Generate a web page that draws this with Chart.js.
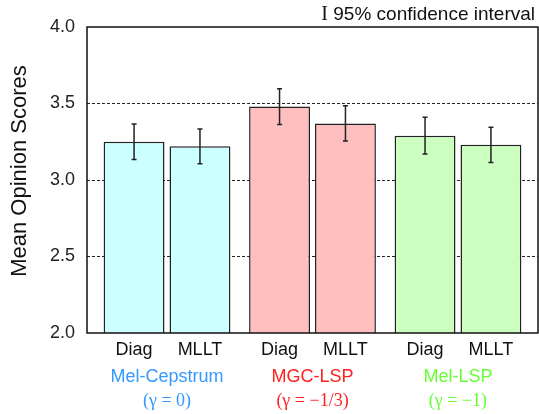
<!DOCTYPE html>
<html>
<head>
<meta charset="utf-8">
<script src="https://cdn.jsdelivr.net/npm/chart.js@4/dist/chart.umd.min.js"></script>
<style>
  html, body { margin: 0; padding: 0; background: #fff; }
  #wrap { width: 539px; height: 414px; position: relative; }
</style>
</head>
<body>
<div id="wrap"><canvas id="mosChart"></canvas></div>
<script>
// data
const groups = ["Mel-Cepstrum", "MGC-LSP", "Mel-LSP"];
const gammaLabels = ["(\u03b3 = 0)", "(\u03b3 = \u22121/3)", "(\u03b3 = \u22121)"];
const seriesNames = ["Diag", "MLLT"];
const diagScores = [3.25, 3.48, 3.29];
const mlltScores = [3.22, 3.37, 3.23];
const diagErr = [0.116, 0.117, 0.12];
const mlltErr = [0.114, 0.115, 0.115];
const yTicks = [2.0, 2.5, 3.0, 3.5, 4.0];

const fills = ["#ccffff", "#ffbfbf", "#ccffbf"];
const groupColors = ["#3399ff", "#ff2020", "#66ff33"];
const errors = [diagErr, mlltErr];

const sans = "'Liberation Sans', Arial, sans-serif";
const serif = "'Liberation Serif', 'Times New Roman', serif";

// error bars, frame and all the free text
const decorations = {
  id: "decorations",
  afterDatasetsDraw(chart) {
    const { ctx, chartArea: a } = chart;
    const y = chart.scales.y;
    ctx.save();

    // confidence intervals
    ctx.strokeStyle = "#222";
    ctx.lineWidth = 1.5;
    chart.data.datasets.forEach((ds, di) => {
      chart.getDatasetMeta(di).data.forEach((bar, i) => {
        const v = ds.data[i].y;
        const e = errors[di][i];
        const top = y.getPixelForValue(v + e);
        const bot = y.getPixelForValue(v - e);
        ctx.beginPath();
        ctx.moveTo(bar.x, top); ctx.lineTo(bar.x, bot);
        ctx.moveTo(bar.x - 2.5, top); ctx.lineTo(bar.x + 2.5, top);
        ctx.moveTo(bar.x - 2.5, bot); ctx.lineTo(bar.x + 2.5, bot);
        ctx.stroke();
      });
    });

    // plot frame
    ctx.strokeStyle = "#111";
    ctx.lineWidth = 1.5;
    ctx.strokeRect(a.left, a.top, a.right - a.left, a.bottom - a.top);

    // bar labels and group labels
    ctx.textAlign = "center";
    ctx.textBaseline = "middle";
    const d0 = chart.getDatasetMeta(0).data;
    const d1 = chart.getDatasetMeta(1).data;
    groups.forEach((g, i) => {
      ctx.fillStyle = "#111";
      ctx.font = "18px " + sans;
      ctx.fillText(seriesNames[0], d0[i].x, a.bottom + 17);
      ctx.fillText(seriesNames[1], d1[i].x, a.bottom + 17);
      const cx = (d0[i].x + d1[i].x) / 2;
      ctx.fillStyle = groupColors[i];
      ctx.fillText(g, cx, a.bottom + 44);
      ctx.font = "18px " + serif;
      ctx.fillText(gammaLabels[i], cx, a.bottom + 68);
    });

    // legend for the error bars
    ctx.fillStyle = "#111";
    ctx.textAlign = "right";
    ctx.textBaseline = "alphabetic";
    ctx.font = "19px " + sans;
    const txt = " 95% confidence interval";
    ctx.fillText(txt, 535, 20);
    const w = ctx.measureText(txt).width;
    ctx.font = "20px " + serif;
    ctx.fillText("I", 535 - w, 20);

    // y axis title
    ctx.textBaseline = "middle";
    ctx.translate(20, 171);
    ctx.rotate(-Math.PI / 2);
    ctx.textAlign = "center";
    ctx.font = "22px " + sans;
    ctx.fillText("Mean Opinion Scores", 0, 0);
    ctx.restore();
  }
};

const toPoints = (vals) => vals.map((v, i) => ({ x: i, y: v }));

new Chart(document.getElementById("mosChart"), {
  type: "bar",
  data: {
    datasets: [
      { label: seriesNames[0], data: toPoints(diagScores), backgroundColor: fills, borderColor: "#222", borderWidth: 1.5 },
      { label: seriesNames[1], data: toPoints(mlltScores), backgroundColor: fills, borderColor: "#222", borderWidth: 1.5 },
    ],
  },
  options: {
    responsive: true,
    maintainAspectRatio: false,
    animation: false,
    categoryPercentage: 0.906,
    barPercentage: 0.924,
    layout: { padding: { top: 27, right: 1, bottom: 81, left: 0 } },
    scales: {
      x: {
        type: "linear", min: -0.55, max: 2.55, offset: false, display: false,
        // one tick per group so the bar width follows the group spacing
        afterBuildTicks: (s) => { s.ticks = groups.map((g, i) => ({ value: i })); },
      },
      y: {
        min: 2, max: 4,
        afterFit: (s) => { s.width = 87; },
        afterBuildTicks: (s) => { s.ticks = yTicks.map((v) => ({ value: v })); },
        border: { display: false, dash: [3, 2] },
        grid: {
          drawTicks: false,
          lineWidth: 1,
          color: (c) => (c.tick && c.tick.value > 2 && c.tick.value < 4 ? "#222" : "rgba(0,0,0,0)"),
        },
        ticks: {
          padding: 12,
          color: "#222",
          font: { family: sans, size: 18 },
          callback: (v) => Number(v).toFixed(1),
        },
      },
    },
    plugins: { legend: { display: false }, tooltip: { enabled: false } },
  },
  plugins: [decorations],
});
</script>
</body>
</html>
